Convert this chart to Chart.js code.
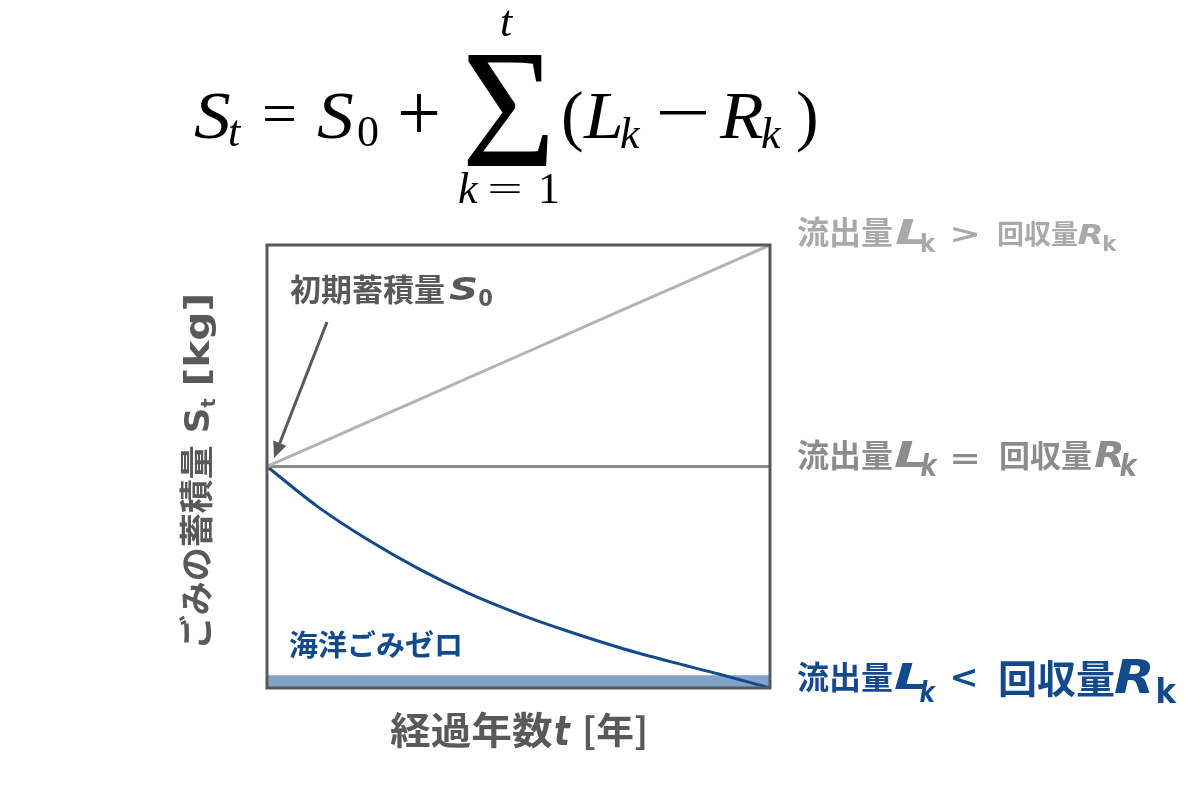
<!DOCTYPE html>
<html>
<head>
<meta charset="utf-8">
<script src="https://cdn.jsdelivr.net/npm/chart.js@4/dist/chart.umd.min.js"></script>
<style>
  html, body { margin: 0; padding: 0; background: #fff; }
</style>
</head>
<body>
<canvas id="canvas" width="1200" height="812"></canvas>
<script>
// years since start, and the stock S_t (in units of S0) for each case
let years = [0, 1, 2, 3, 4, 5, 6, 7, 8, 9, 10];
let outflowGreater = [1.0, 1.1, 1.2, 1.3, 1.4, 1.5, 1.6, 1.7, 1.8, 1.9, 2.0];
let outflowEqual = [1.0, 1.0, 1.0, 1.0, 1.0, 1.0, 1.0, 1.0, 1.0, 1.0, 1.0];
let outflowLess = [1.0, 0.82, 0.67, 0.54, 0.428, 0.335, 0.255, 0.183, 0.12, 0.062, 0.0];
let zeroBand = [0.058, 0.058, 0.058, 0.058, 0.058, 0.058, 0.058, 0.058, 0.058, 0.058, 0.058];

const GRAY_DARK = '#595959';
const GRAY_MID = '#8c8c8c';
const GRAY_LIGHT = '#a9a9a9';
const BLUE = '#134a8e';

const JP = '"Noto Sans CJK JP"';
const WIDE = '"DejaVu Sans"';
const SERIF = '"Liberation Serif"';

function pts(vals) {
  return years.map((x, i) => ({ x: x, y: vals[i] }));
}

// one piece of text at a fixed spot, optionally stretched sideways
function put(ctx, p) {
  ctx.save();
  ctx.font = p.f;
  ctx.fillStyle = p.c;
  ctx.translate(p.x, p.y);
  ctx.scale(p.sx || 1, 1);
  ctx.fillText(p.t, 0, 0);
  ctx.restore();
}

// draw (or just measure) a run of text pieces left to right
function runs(ctx, x, y, parts, measureOnly) {
  let start = x;
  parts.forEach(p => {
    ctx.font = p.f;
    let w = ctx.measureText(p.t).width * (p.sx || 1);
    if (!measureOnly) put(ctx, { t: p.t, f: p.f, c: p.c, x: x, y: y + (p.dy || 0), sx: p.sx });
    x += w + (p.post || 0);
  });
  return x - start;
}

// put a glyph so that its ink fills the given box
function fitGlyph(ctx, t, font, color, x0, y0, x1, y1) {
  ctx.save();
  ctx.font = font;
  ctx.fillStyle = color;
  let m = ctx.measureText(t);
  let w = m.actualBoundingBoxLeft + m.actualBoundingBoxRight;
  let h = m.actualBoundingBoxAscent + m.actualBoundingBoxDescent;
  ctx.translate(x0, y0);
  ctx.scale((x1 - x0) / w, (y1 - y0) / h);
  ctx.fillText(t, m.actualBoundingBoxLeft, m.actualBoundingBoxAscent);
  ctx.restore();
}

const decor = {
  id: 'decor',
  afterDraw(chart) {
    const ctx = chart.ctx;
    const a = chart.chartArea;
    ctx.save();
    ctx.textBaseline = 'alphabetic';
    ctx.textAlign = 'left';

    // frame
    ctx.strokeStyle = GRAY_DARK;
    ctx.lineWidth = 3;
    ctx.strokeRect(a.left, a.top, a.right - a.left, a.bottom - a.top);

    // formula
    const it = s => 'italic ' + s + 'px ' + SERIF;
    const up = s => s + 'px ' + SERIF;
    put(ctx, { t: 'S', f: it(68), c: '#000', x: 194, y: 138, sx: 1.08 });
    put(ctx, { t: 't', f: it(44), c: '#000', x: 228, y: 146 });
    put(ctx, { t: '=', f: up(62), c: '#000', x: 262, y: 134 });
    put(ctx, { t: 'S', f: it(68), c: '#000', x: 317, y: 138, sx: 1.08 });
    put(ctx, { t: '0', f: up(44), c: '#000', x: 357, y: 146 });
    fitGlyph(ctx, '+', up(80), '#000', 400, 94, 438, 132);
    fitGlyph(ctx, 'Σ', up(150), '#000', 467, 54, 548, 166);
    put(ctx, { t: 't', f: it(44), c: '#000', x: 500, y: 36 });
    put(ctx, { t: 'k', f: it(44), c: '#000', x: 458, y: 203 });
    fitGlyph(ctx, '=', up(44), '#000', 490, 184, 520, 194);
    put(ctx, { t: '1', f: up(44), c: '#000', x: 538, y: 203 });
    put(ctx, { t: '(', f: up(68), c: '#000', x: 561, y: 138 });
    put(ctx, { t: 'L', f: it(68), c: '#000', x: 584, y: 138, sx: 1.05 });
    put(ctx, { t: 'k', f: it(44), c: '#000', x: 620, y: 148 });
    ctx.fillStyle = '#000';
    ctx.fillRect(660, 111, 46, 3.5);
    put(ctx, { t: 'R', f: it(68), c: '#000', x: 720, y: 138, sx: 1.05 });
    put(ctx, { t: 'k', f: it(44), c: '#000', x: 761, y: 148 });
    put(ctx, { t: ')', f: up(68), c: '#000', x: 796, y: 138 });

    const jb = s => 'bold ' + s + 'px ' + JP;
    const lb = 'italic bold 60px ' + WIDE;
    const lbn = 'bold 60px ' + WIDE;

    // right-hand case labels
    let c = GRAY_LIGHT;
    put(ctx, { t: '流出量', f: jb(32), c: c, x: 797, y: 244 });
    fitGlyph(ctx, 'L', lb, c, 896, 219, 925, 244);
    fitGlyph(ctx, 'k', lbn, c, 922, 233, 936, 252);
    fitGlyph(ctx, '>', lbn, c, 953, 227, 977, 243);
    put(ctx, { t: '回収量', f: jb(27), c: c, x: 997, y: 244 });
    fitGlyph(ctx, 'R', lb, c, 1078, 224, 1101, 244);
    fitGlyph(ctx, 'k', lbn, c, 1104, 234, 1117, 251);

    c = GRAY_MID;
    put(ctx, { t: '流出量', f: jb(32), c: c, x: 797, y: 467 });
    fitGlyph(ctx, 'L', lb, c, 895, 441, 924, 467);
    fitGlyph(ctx, 'k', lb, c, 921, 453, 938, 476);
    fitGlyph(ctx, '=', lbn, c, 953, 454, 977, 464);
    put(ctx, { t: '回収量', f: jb(31), c: c, x: 999, y: 467 });
    fitGlyph(ctx, 'R', lb, c, 1095, 441, 1122, 467);
    fitGlyph(ctx, 'k', lb, c, 1120, 453, 1138, 476);

    c = BLUE;
    put(ctx, { t: '流出量', f: jb(32), c: c, x: 797, y: 689 });
    fitGlyph(ctx, 'L', lb, c, 895, 662, 924, 689);
    fitGlyph(ctx, 'k', lb, c, 920, 680, 936, 702);
    fitGlyph(ctx, '<', lbn, c, 953, 668, 975, 687);
    put(ctx, { t: '回収量', f: jb(39), c: c, x: 998, y: 693 });
    fitGlyph(ctx, 'R', lb, c, 1115, 659, 1151, 693);
    fitGlyph(ctx, 'k', lbn, c, 1158, 678, 1177, 704);

    // annotations inside the frame
    put(ctx, { t: '初期蓄積量', f: jb(31), c: GRAY_DARK, x: 290, y: 301 });
    fitGlyph(ctx, 'S', lb, GRAY_DARK, 449, 276, 476, 301);
    fitGlyph(ctx, '0', lbn, GRAY_DARK, 479, 289, 492, 306);
    put(ctx, { t: '海洋ごみゼロ', f: jb(29), c: BLUE, x: 289, y: 656 });

    // arrow to S0
    const ax0 = 327, ay0 = 322, ax1 = 274, ay1 = 458;
    const ang = Math.atan2(ay1 - ay0, ax1 - ax0);
    ctx.strokeStyle = GRAY_DARK;
    ctx.fillStyle = GRAY_DARK;
    ctx.lineWidth = 3;
    ctx.beginPath();
    ctx.moveTo(ax0, ay0);
    ctx.lineTo(ax1 - 12 * Math.cos(ang), ay1 - 12 * Math.sin(ang));
    ctx.stroke();
    ctx.beginPath();
    ctx.moveTo(ax1, ay1);
    ctx.lineTo(ax1 - 16 * Math.cos(ang) + 7 * Math.sin(ang), ay1 - 16 * Math.sin(ang) - 7 * Math.cos(ang));
    ctx.lineTo(ax1 - 16 * Math.cos(ang) - 7 * Math.sin(ang), ay1 - 16 * Math.sin(ang) + 7 * Math.cos(ang));
    ctx.closePath();
    ctx.fill();

    // x axis title
    put(ctx, { t: '経過年数', f: jb(38), c: GRAY_DARK, x: 390, y: 744, sx: 1.07 });
    fitGlyph(ctx, 't', lb, GRAY_DARK, 555, 716, 571, 745);
    put(ctx, { t: '[年]', f: jb(36), c: GRAY_DARK, x: 582, y: 744, sx: 1.05 });

    // y axis title (rotated)
    const yParts = [
      { t: 'ごみの蓄積量', f: jb(34), c: GRAY_DARK, post: 12 },
      { t: 'S', f: 'bold 34px ' + WIDE, c: GRAY_DARK, sx: 1.05 },
      { t: 't', f: 'bold 19px ' + WIDE, c: GRAY_DARK, dy: 6, post: 12 },
      { t: '[kg]', f: 'bold 34px ' + WIDE, c: GRAY_DARK, sx: 1.2 }
    ];
    ctx.save();
    ctx.translate(209, 471);
    ctx.rotate(-Math.PI / 2);
    const wy = runs(ctx, 0, 0, yParts, true);
    runs(ctx, -wy / 2, 0, yParts);
    ctx.restore();

    ctx.restore();
  }
};

let options = {
  type: 'line',
  data: {
    datasets: [
      {
        label: '流出量 > 回収量',
        data: pts(outflowGreater),
        borderColor: '#b3b3b3',
        borderWidth: 3,
        pointRadius: 0,
        fill: false
      },
      {
        label: '流出量 = 回収量',
        data: pts(outflowEqual),
        borderColor: '#8a8a8a',
        borderWidth: 3,
        pointRadius: 0,
        fill: false
      },
      {
        label: '流出量 < 回収量',
        data: pts(outflowLess),
        borderColor: BLUE,
        borderWidth: 3,
        pointRadius: 0,
        cubicInterpolationMode: 'monotone',
        fill: false
      },
      {
        label: '海洋ごみゼロ',
        data: pts(zeroBand),
        borderWidth: 0,
        borderColor: 'rgba(0,0,0,0)',
        backgroundColor: 'rgb(128,161,200)',
        pointRadius: 0,
        fill: 'origin'
      }
    ]
  },
  options: {
    responsive: false,
    animation: false,
    devicePixelRatio: 1,
    layout: {
      padding: { left: 267, right: 430, top: 245, bottom: 124 }
    },
    scales: {
      x: { type: 'linear', min: 0, max: 10, display: false },
      y: { min: 0, max: 2, display: false }
    },
    plugins: {
      legend: { display: false },
      tooltip: { enabled: false }
    }
  },
  plugins: [decor]
};

let chart = new Chart(document.getElementById('canvas'), options);
</script>
</body>
</html>
